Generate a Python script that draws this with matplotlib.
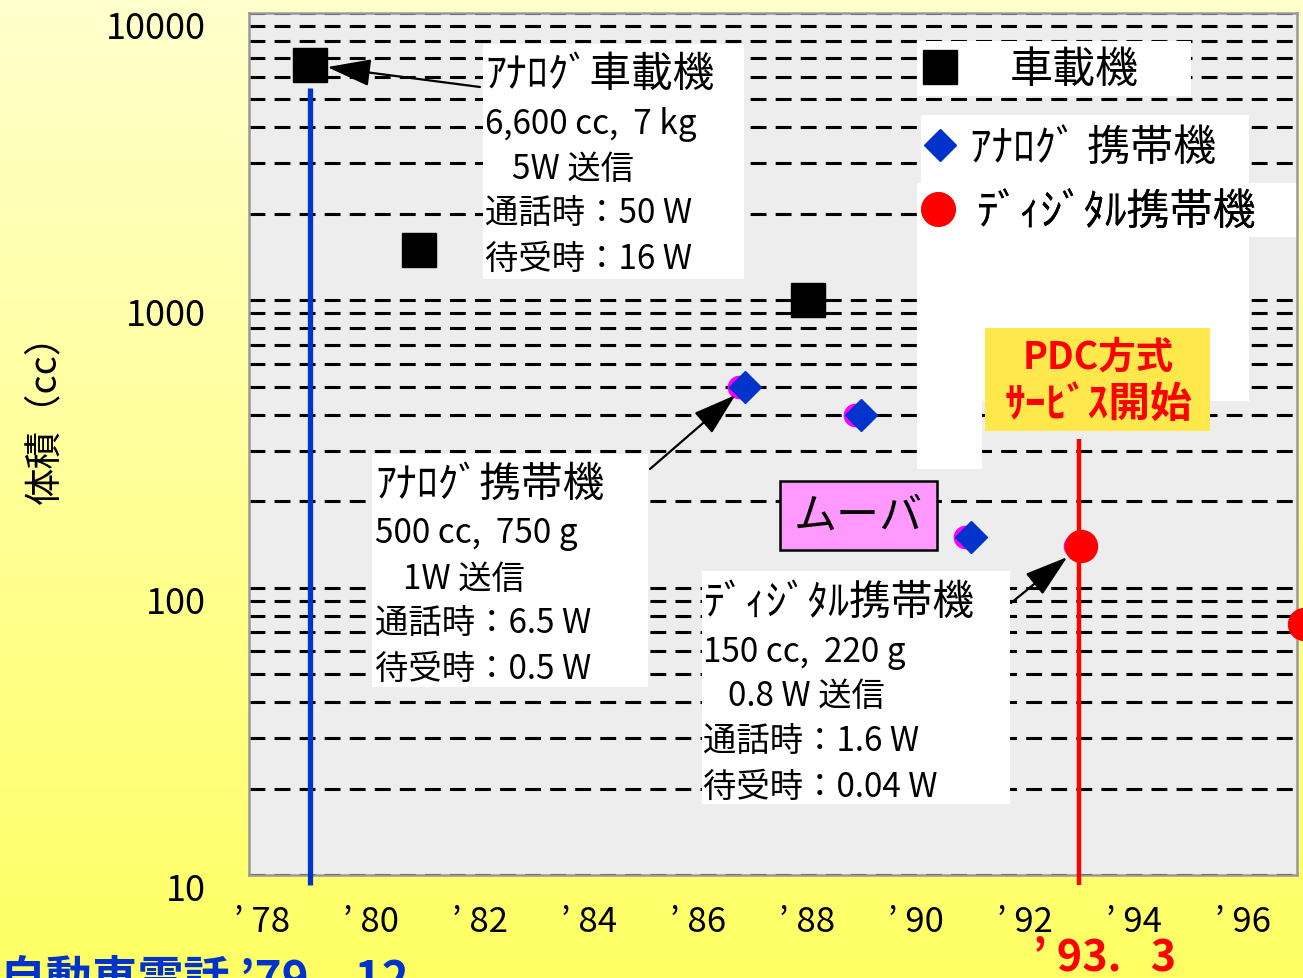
import numpy as np
import matplotlib
matplotlib.use("Agg")
import matplotlib.pyplot as plt
from matplotlib.patches import Rectangle
from matplotlib.lines import Line2D
from matplotlib.ticker import LogLocator, NullFormatter
from matplotlib.transforms import ScaledTranslation, offset_copy

plt.rcParams['font.family'] = ['Noto Sans CJK JP', 'DejaVu Sans']

# data (year as decimal, volume in cc)
car_year = [79.12, 81.12, 88.25]
car_cc = [6600, 1500, 1000]
analog_year = [87.1, 89.23, 91.25]
analog_cc = [500, 400, 150]
digital_year = [93.27, 97.35]
digital_cc = [140, 75]

year_ticks = [78, 80, 82, 84, 86, 88, 90, 92, 94, 96]
year_labels = ["’ 78", "’ 80", "’ 82", "’ 84", "’ 86", "’ 88", "’ 90", "’ 92", "’ 94", "’ 96"]
cc_ticks = [10, 100, 1000, 10000]
cc_labels = ["10", "100", "1000", "10000"]

car_phone_start = 79.12   # 自動車電話 '79.12
pdc_start = 93.23         # PDC方式 '93.3

W, H = 1303, 979
BLUE = '#0033CC'


def fx(px):
    return px / W


def fy(py):
    return 1 - py / H


fig = plt.figure(figsize=(W / 100, H / 100), dpi=100)

# yellow gradient background
bg = fig.add_axes([0, 0, 1, 1], zorder=-10)
t = np.linspace(0, 1, 256)[:, None, None]
top = np.array([255, 255, 204]) / 255
bot = np.array([255, 255, 100]) / 255
grad = top * (1 - t) + bot * t
bg.imshow(np.repeat(grad, 2, axis=1), aspect='auto', extent=[0, 1, 0, 1])
bg.axis('off')

ax = fig.add_axes([fx(249), fy(876), fx(1297) - fx(249), (876 - 14) / H])
ax.set_facecolor('#EDEDED')
ax.set_yscale('log')
ax.set_ylim(10, 10000)
ax.set_xlim(78, 78 + 1048 / 54.5)
for s in ax.spines.values():
    s.set_color('#999999')
    s.set_linewidth(1.8)

ax.set_yticks(cc_ticks, cc_labels)
ax.yaxis.set_minor_locator(LogLocator(base=10, subs=np.arange(2, 10)))
ax.yaxis.set_minor_formatter(NullFormatter())
ax.set_xticks(year_ticks, year_labels)
ax.tick_params(which='both', length=0)
ax.tick_params(axis='y', labelsize=26, pad=31)
ax.tick_params(axis='x', labelsize=25, pad=21)
ax.set_axisbelow(True)
ax.grid(True, axis='y', which='both', color='k', lw=2.2, linestyle=(0, (5.2, 3)))

for lbl in ax.get_yticklabels():
    lbl.set_transform(lbl.get_transform() + ScaledTranslation(0, -0.11, fig.dpi_scale_trans))
for lbl in ax.get_xticklabels():
    lbl.set_transform(lbl.get_transform() + ScaledTranslation(0.13, 0, fig.dpi_scale_trans))

fig.text(fx(45), fy(410), '体積（cc）', rotation=90, ha='center', va='center', fontsize=27)

# service start lines
ax.vlines(car_phone_start, 9.2, 5500, color=BLUE, lw=3.8, zorder=3, clip_on=False)
ax.vlines(pdc_start, 9.2, 330, color='#FF0000', lw=3.2, zorder=3, clip_on=False)

# hidden magenta series peeking out behind the handsets
shift = offset_copy(ax.transData, fig=fig, x=-6, y=0, units='dots')
ax.plot(analog_year + digital_year[:1], analog_cc + digital_cc[:1], 'o',
        color='#FF00FF', ms=16, transform=shift, zorder=4)

ax.plot(car_year, car_cc, 's', color='k', ms=24, zorder=5, clip_on=False)
ax.plot(analog_year, analog_cc, 'D', color=BLUE, ms=16, zorder=5, clip_on=False)
ax.plot(digital_year, digital_cc, 'o', color='#FF0000', ms=23, zorder=5, clip_on=False)


def box(x0, y0, x1, y1, **kw):
    r = Rectangle((fx(x0), fy(y1)), fx(x1) - fx(x0), (y1 - y0) / H,
                  transform=fig.transFigure, zorder=kw.pop('zorder', 2), **kw)
    ax.add_patch(r)


def txt(x, y, s, **kw):
    kw.setdefault('va', 'center')
    kw.setdefault('ha', 'left')
    kw.setdefault('zorder', 6)
    ax.text(fx(x), fy(y), s, transform=fig.transFigure, **kw)


# legend background (irregular white area)
for b in [(917, 42, 1191, 97), (921, 116, 1249, 184), (917, 184, 1297, 238),
          (917, 238, 1249, 402), (917, 402, 982, 470)]:
    box(*b, facecolor='white', edgecolor='none')

leg_items = [
    (Line2D([], [], ls='none', marker='s', ms=25, color='k'), '車載機', 940, 71, 1.13),
    (Line2D([], [], ls='none', marker='D', ms=16, color=BLUE), 'ｱﾅﾛｸﾞ 携帯機', 940, 149, 0.2),
    (Line2D([], [], ls='none', marker='o', ms=24, color='#FF0000'), 'ﾃﾞｨｼﾞﾀﾙ携帯機', 938, 213, 0.41),
]
for h, name, cx, cy, gap in leg_items:
    leg = ax.legend(handles=[h], labels=[name], loc='center left', frameon=False,
                    bbox_to_anchor=(fx(cx - 21.5), fy(cy)), bbox_transform=fig.transFigure,
                    fontsize=31, handlelength=1.0, handletextpad=gap,
                    borderpad=0, borderaxespad=0)
    leg.set_zorder(6)
    ax.add_artist(leg)

# PDC service start
box(985, 329, 1210, 432, facecolor='#FFE84C', edgecolor='none', zorder=3)
txt(1098, 357, 'PDC方式', ha='center', color='#FF0000', fontsize=27, fontweight='bold')
txt(1098, 405, 'ｻｰﾋﾞｽ開始', ha='center', color='#FF0000', fontsize=30, fontweight='bold')

# ムーバ
box(780, 482, 937, 551, facecolor='#FF99FF', edgecolor='k', lw=1.8, zorder=3)
txt(858, 517, 'ムーバ', ha='center', fontsize=31)

# spec boxes
notes = [
    ((483, 45, 744, 280), 485, 75, 'ｱﾅﾛｸﾞ車載機',
     ['6,600 cc,  7 kg', '5W 送信', '通話時：50 W', '待受時：16 W'], 512),
    ((372, 455, 648, 688), 375, 485, 'ｱﾅﾛｸﾞ携帯機',
     ['500 cc,  750 g', '1W 送信', '通話時：6.5 W', '待受時：0.5 W'], 403),
    ((702, 572, 1010, 805), 703, 603, 'ﾃﾞｨｼﾞﾀﾙ携帯機',
     ['150 cc,  220 g', '0.8 W 送信', '通話時：1.6 W', '待受時：0.04 W'], 728),
]
for b, x, y, title, lines, indent in notes:
    box(*b, facecolor='white', edgecolor='none')
    txt(x, y, title, fontsize=30)
    for i, line in enumerate(lines):
        xx = indent if i == 1 else x
        txt(xx, y + 49 + 45 * i, line, fontsize=24)

arrow = dict(arrowstyle='-|>,head_length=0.8,head_width=0.25', mutation_scale=34,
             lw=1.6, color='k', shrinkA=0)
ax.annotate('', xy=(car_year[0], car_cc[0]), xytext=(fx(480), fy(88)),
            textcoords='figure fraction', arrowprops=dict(arrow, shrinkB=12.5), zorder=6)
ax.annotate('', xy=(analog_year[0], analog_cc[0]), xytext=(fx(650), fy(470)),
            textcoords='figure fraction', arrowprops=dict(arrow, shrinkB=9), zorder=6)
ax.annotate('', xy=(digital_year[0], digital_cc[0]), xytext=(fx(1011), fy(604)),
            textcoords='figure fraction', arrowprops=dict(arrow, shrinkB=13), zorder=6)

# dates under the axis
fig.text(fx(0), fy(958), '自動車電話 ’79.   12', color=BLUE, fontsize=33,
         fontweight='bold', va='top', ha='left')
fig.text(fx(1033), fy(936), '’ 93.   3', color='#FF0000', fontsize=31,
         fontweight='bold', va='top', ha='left')

fig.savefig('out.png', dpi=100)
